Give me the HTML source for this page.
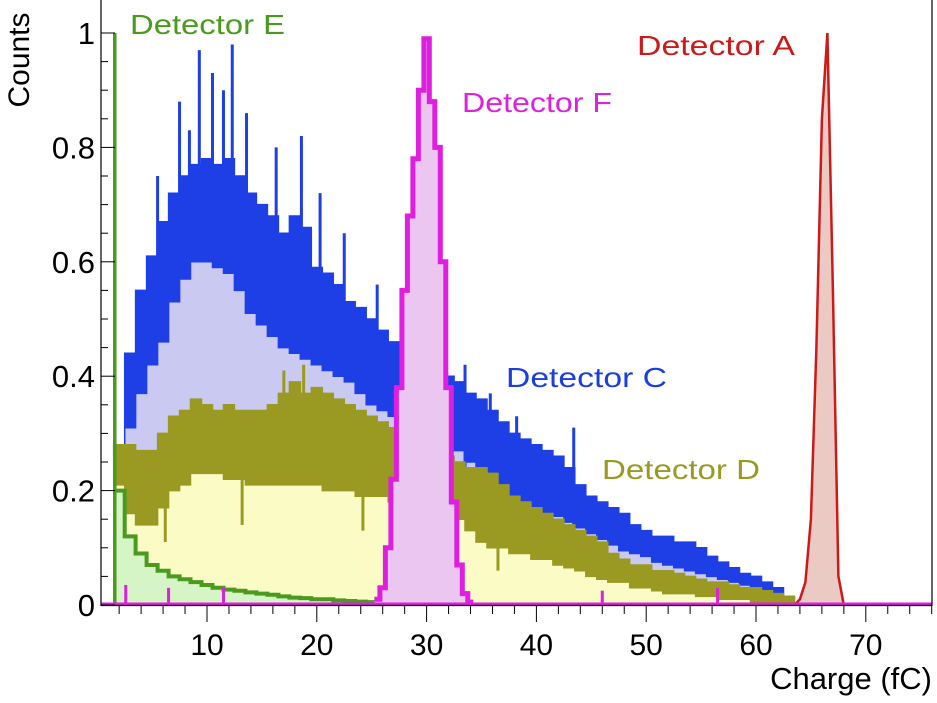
<!DOCTYPE html>
<html><head><meta charset="utf-8"><style>
html,body{margin:0;padding:0;background:#fff;}
svg{display:block;font-family:"Liberation Sans",sans-serif;}
</style></head><body>
<svg id="chart" width="937" height="703" viewBox="0 0 937 703" xmlns="http://www.w3.org/2000/svg">
<g id="marks"></g>
<g id="axes"></g>
<text transform="translate(29,60) rotate(-90)" text-anchor="middle" font-size="30" fill="#000">Counts</text>
<text x="932" y="689" text-anchor="end" font-size="31" fill="#000">Charge (fC)</text>
<text x="637" y="55" font-size="28" textLength="158" lengthAdjust="spacingAndGlyphs" fill="#cc1a1a">Detector A</text>
<text x="462" y="112" font-size="28" textLength="150" lengthAdjust="spacingAndGlyphs" fill="#dd22dd">Detector F</text>
<text x="506" y="387" font-size="28" textLength="161" lengthAdjust="spacingAndGlyphs" fill="#1a3ee0">Detector C</text>
<text x="602" y="479" font-size="28" textLength="158" lengthAdjust="spacingAndGlyphs" fill="#9a9a22">Detector D</text>
<text x="130" y="34" font-size="28" textLength="155" lengthAdjust="spacingAndGlyphs" fill="#4a9a1e">Detector E</text>
</svg>
<script>
const binsCD = [2,3,4,5,6,7,8,9,10,11,12,13,14,15,16,17,18,19,20,21,22,23,24,25,26,27,28,29,30,31,32,33,34,35,36,37,38,39,40,41,42,43,44,45,46,47,48,49,50,51,52,53,54,55,56,57,58,59,60,61,62,63];
const cTop = [0.28,0.44,0.55,0.61,0.67,0.72,0.75,0.77,0.78,0.77,0.78,0.75,0.72,0.70,0.68,0.65,0.68,0.66,0.59,0.58,0.56,0.53,0.52,0.50,0.48,0.46,0.45,0.43,0.42,0.41,0.40,0.39,0.37,0.36,0.34,0.32,0.30,0.29,0.28,0.27,0.26,0.24,0.21,0.19,0.18,0.17,0.16,0.14,0.13,0.12,0.12,0.11,0.11,0.10,0.085,0.075,0.065,0.055,0.05,0.04,0.03,0.015];
const cLow = [0.26,0.31,0.37,0.42,0.46,0.53,0.57,0.60,0.60,0.59,0.58,0.55,0.51,0.49,0.47,0.45,0.44,0.43,0.42,0.41,0.40,0.39,0.37,0.35,0.34,0.33,0.32,0.31,0.30,0.29,0.28,0.27,0.25,0.23,0.21,0.20,0.19,0.18,0.17,0.16,0.155,0.145,0.135,0.125,0.115,0.105,0.095,0.09,0.085,0.075,0.07,0.065,0.06,0.055,0.05,0.045,0.04,0.035,0.03,0.02,0.01,0.005];
const cSpikeX = [5.5,7.5,8.4,9.3,10.5,11.5,12.3,13.6,16.3,18.6,20.3,22.5,25.5,33.5,35.8,38.2,43.4];
const cSpikeV = [0.75,0.88,0.83,0.97,0.93,0.90,0.98,0.86,0.80,0.82,0.72,0.65,0.56,0.42,0.37,0.33,0.31];
const dTop = [0.28,0.28,0.27,0.27,0.30,0.33,0.34,0.36,0.35,0.34,0.35,0.34,0.34,0.34,0.35,0.37,0.39,0.37,0.38,0.37,0.36,0.35,0.34,0.33,0.32,0.31,0.30,0.29,0.28,0.27,0.26,0.25,0.24,0.24,0.23,0.21,0.19,0.18,0.17,0.16,0.15,0.14,0.13,0.12,0.11,0.09,0.08,0.07,0.07,0.06,0.06,0.055,0.05,0.045,0.04,0.04,0.035,0.03,0.03,0.025,0.02,0.015];
const dLow = [0.21,0.16,0.14,0.14,0.17,0.20,0.21,0.23,0.23,0.23,0.22,0.22,0.21,0.21,0.21,0.21,0.21,0.21,0.21,0.20,0.20,0.20,0.19,0.19,0.19,0.18,0.18,0.17,0.17,0.16,0.16,0.15,0.13,0.11,0.10,0.10,0.09,0.09,0.08,0.08,0.07,0.065,0.06,0.05,0.045,0.04,0.04,0.03,0.03,0.025,0.02,0.02,0.02,0.015,0.015,0.01,0.01,0.01,0.005,0.005,0.005,0];
const dSpikeX = [6.2,13.2,17.0,18.8,24.2,36.5];
const dSpikeV = [0.11,0.14,0.31,0.32,0.13,0.06];
const eBins = [2,3,4,5,6,7,8,9,10,11,12,13,14,15,16,17,18,19,20,21,22,23,24,25];
const eVals = [0.20,0.12,0.09,0.07,0.06,0.05,0.045,0.04,0.035,0.03,0.027,0.025,0.022,0.02,0.018,0.015,0.013,0.012,0.01,0.01,0.008,0.007,0.006,0.005];
const eSpikeX = 1.6;
const eSpikeV = 1.0;
const fBins = [25.5,26,26.5,27,27.5,28,28.5,29,29.5,30,30.5,31,31.5,32,32.5,33,33.5,34];
const fVals = [0.01,0.03,0.10,0.22,0.38,0.55,0.68,0.78,0.90,0.99,0.88,0.80,0.60,0.38,0.18,0.07,0.02,0.005];
const fSpikeX = [2.6,6.5,11.5,46,56.5];
const fSpikeV = [0.035,0.03,0.03,0.025,0.03];
const aBins = [63.5,64,64.5,65,65.5,66,66.5,67,67.5,68];
const aVals = [0,0.01,0.04,0.15,0.45,0.85,1.0,0.55,0.05,0];
const yTicks = [0,0.2,0.4,0.6,0.8,1];
const yTickLabels = ["0","0.2","0.4","0.6","0.8","1"];
const xTicks = [10,20,30,40,50,60,70];
const xTickLabels = ["10","20","30","40","50","60","70"];

const NS = "http://www.w3.org/2000/svg";
const X = v => 97.2 + v * 10.98;
const Y = v => 605 - v * 572;
const marks = document.getElementById('marks');
const axes = document.getElementById('axes');
function mk(tag, attrs, parent) {
  const el = document.createElementNS(NS, tag);
  for (const k in attrs) el.setAttribute(k, attrs[k]);
  parent.appendChild(el);
  return el;
}
function stepPts(bins, vals, w) {
  let p = [];
  for (let i = 0; i < bins.length; i++) {
    p.push(X(bins[i] - w / 2).toFixed(1) + ',' + Y(vals[i]).toFixed(1));
    p.push(X(bins[i] + w / 2).toFixed(1) + ',' + Y(vals[i]).toFixed(1));
  }
  return p;
}
function bandPts(bins, top, low, w) {
  const a = stepPts(bins, top, w);
  const b = stepPts(bins, low, w).reverse();
  return a.concat(b).join(' ');
}
function fillPts(bins, vals, w) {
  const p = stepPts(bins, vals, w);
  p.unshift(X(bins[0] - w / 2).toFixed(1) + ',' + Y(0));
  p.push(X(bins[bins.length - 1] + w / 2).toFixed(1) + ',' + Y(0));
  return p.join(' ');
}

// Detector C
let el = mk('polygon', {points: fillPts(binsCD, cLow, 1), fill: '#c9c9f2'}, marks);


el = mk('polygon', {points: bandPts(binsCD, cTop, cLow, 1), fill: '#1e3fe6', stroke: '#1e3fe6', 'stroke-width': 1.5}, marks);


for (let i = 0; i < cSpikeX.length; i++) {
  el = mk('line', {x1: X(cSpikeX[i]), x2: X(cSpikeX[i]), y1: Y(cSpikeV[i]), y2: Y(cSpikeV[i] - 0.2), stroke: '#1e3fe6', 'stroke-width': 3}, marks);
  
  
}
// Detector D
el = mk('polygon', {points: fillPts(binsCD, dLow, 1), fill: '#fbfbc6'}, marks);


el = mk('polygon', {points: bandPts(binsCD, dTop, dLow, 1), fill: '#9a9a22', stroke: '#9a9a22', 'stroke-width': 1.5}, marks);


for (let i = 0; i < dSpikeX.length; i++) {
  el = mk('line', {x1: X(dSpikeX[i]), x2: X(dSpikeX[i]), y1: Y(dSpikeV[i]), y2: Y(dSpikeV[i] + 0.1), stroke: '#9a9a22', 'stroke-width': 3}, marks);
  
  
}
// Detector E
el = mk('polygon', {points: fillPts(eBins, eVals, 1), fill: '#d6f5c6'}, marks);


el = mk('polyline', {points: stepPts(eBins, eVals, 1).join(' '), fill: 'none', stroke: '#4a9a1e', 'stroke-width': 4}, marks);


el = mk('line', {x1: X(eSpikeX), x2: X(eSpikeX), y1: Y(0), y2: Y(eSpikeV), stroke: '#4a9a1e', 'stroke-width': 3.5}, marks);


// Detector F
el = mk('polygon', {points: fillPts(fBins, fVals, 0.5), fill: '#eac6f0'}, marks);


el = mk('polyline', {points: stepPts(fBins, fVals, 0.5).join(' '), fill: 'none', stroke: '#e01ee0', 'stroke-width': 5}, marks);


for (let i = 0; i < fSpikeX.length; i++) {
  el = mk('line', {x1: X(fSpikeX[i]), x2: X(fSpikeX[i]), y1: Y(0), y2: Y(fSpikeV[i]), stroke: '#e01ee0', 'stroke-width': 3}, marks);
  
  
}
// Detector A
let ap = aBins.map((b, i) => X(b).toFixed(1) + ',' + Y(aVals[i]).toFixed(1));
el = mk('polygon', {points: ap.join(' '), fill: '#eccac4'}, marks);


el = mk('polyline', {points: ap.join(' '), fill: 'none', stroke: '#cc1a1a', 'stroke-width': 2.5}, marks);


// magenta baseline
el = mk('line', {x1: 101, x2: 932, y1: 604, y2: 604, stroke: '#e01ee0', 'stroke-width': 3}, marks);



// Axes
el = mk('line', {x1: 101, x2: 101, y1: 0, y2: 606, stroke: '#000', 'stroke-width': 1.2}, axes);


el = mk('line', {x1: 932, x2: 932, y1: 0, y2: 606, stroke: '#000', 'stroke-width': 1.2}, axes);


el = mk('line', {x1: 101, x2: 932, y1: 605.5, y2: 605.5, stroke: '#000', 'stroke-width': 1.2}, axes);


for (let v = 0; v <= 1.0001; v += 0.05) {
  const major = Math.abs(v * 5 - Math.round(v * 5)) < 0.001;
  el = mk('line', {x1: 101, x2: 101 + (major ? 14 : 7), y1: Y(v), y2: Y(v), stroke: '#000', 'stroke-width': 1}, axes);
  
  
}
for (let i = 0; i < yTicks.length; i++) {
  el = mk('text', {x: 95, y: Y(yTicks[i]) + 11, 'text-anchor': 'end', 'font-size': 31, fill: '#000'}, axes);
  el.textContent = yTickLabels[i];
  
  
}
for (let v = 2; v <= 76; v += 2) {
  const major = v % 10 === 0;
  el = mk('line', {x1: X(v), x2: X(v), y1: 605, y2: 605 + (major ? 17 : 9), stroke: '#000', 'stroke-width': 1}, axes);
  
  
}
for (let i = 0; i < xTicks.length; i++) {
  el = mk('text', {x: X(xTicks[i]), y: 655, 'text-anchor': 'middle', 'font-size': 30, fill: '#000'}, axes);
  el.textContent = xTickLabels[i];
  
  
}
</script>
</body></html>
